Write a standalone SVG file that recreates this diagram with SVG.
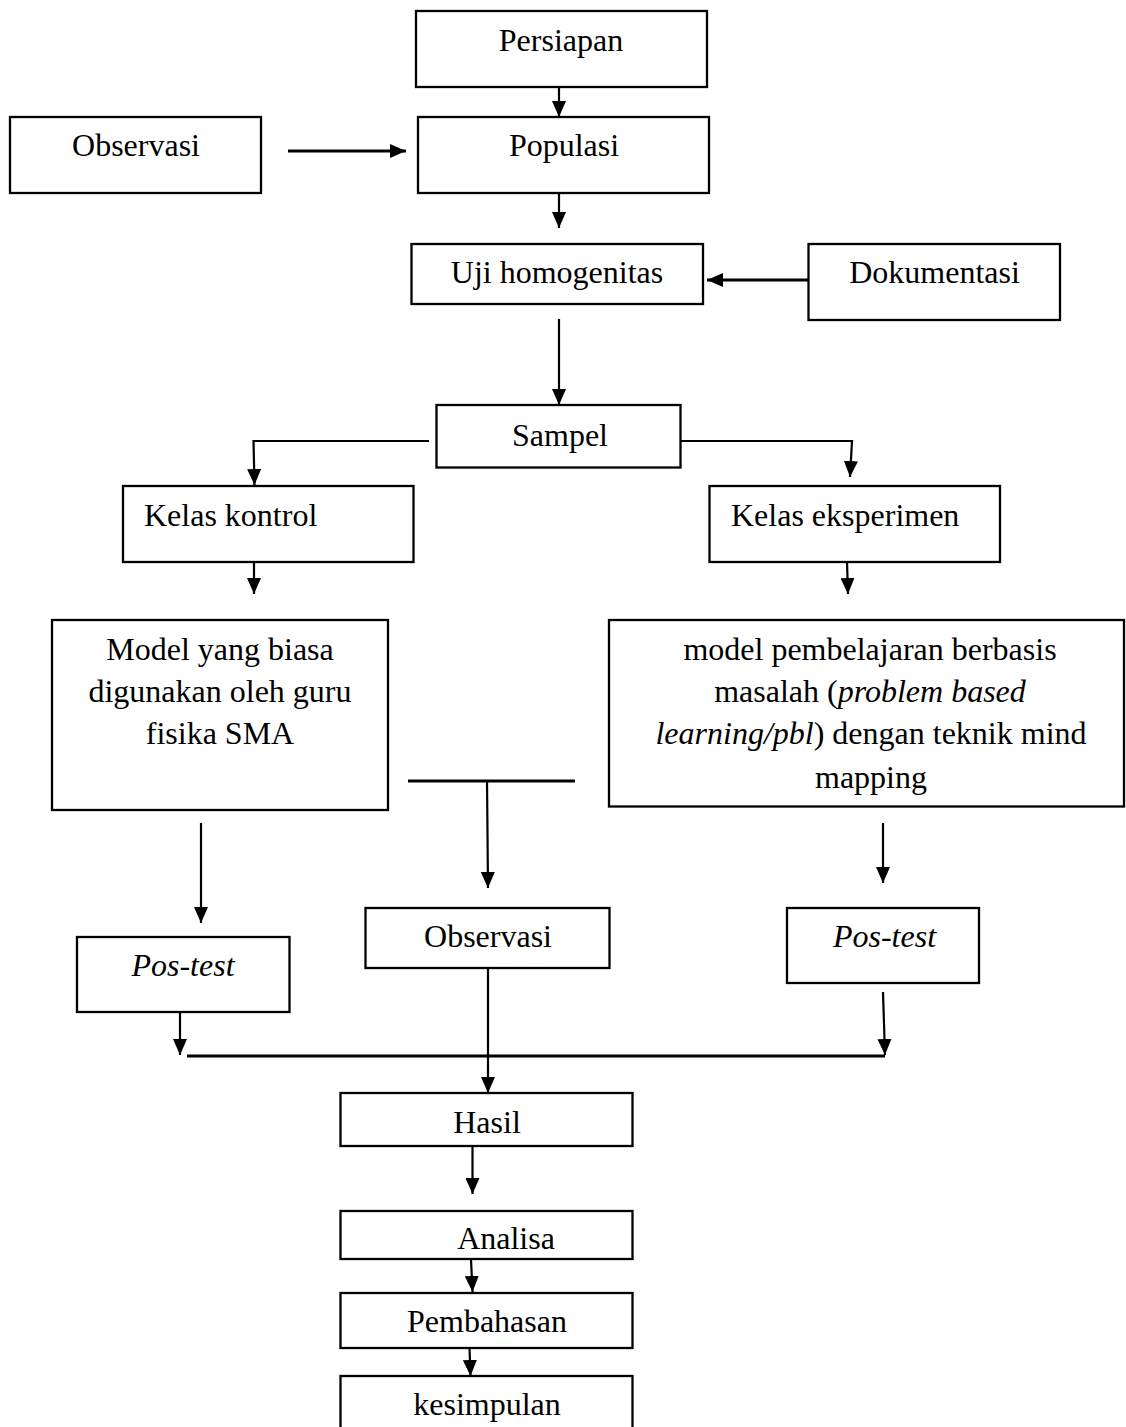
<svg xmlns="http://www.w3.org/2000/svg" width="1126" height="1427" viewBox="0 0 1126 1427">
<style>
.box{fill:#fff;stroke:#000;stroke-width:2.3}
.t{font-family:"Liberation Serif","Times New Roman",serif;font-size:32px;fill:#000;text-anchor:middle}
.ts{text-anchor:start}
.i{font-style:italic}
.c{stroke:#000;stroke-width:2.2;fill:none}
.ck{stroke:#000;stroke-width:2.8;fill:none}
</style>
<defs>
<marker id="ah" markerUnits="userSpaceOnUse" markerWidth="16" markerHeight="14" refX="16" refY="7" orient="auto" viewBox="0 0 16 14">
<path d="M0,0 L16,7 L0,14 Z" fill="#000"/>
</marker>
</defs>
<rect width="1126" height="1427" fill="#fff"/>
<g id="connectors">
<line class="c" x1="559" y1="87" x2="559" y2="117" marker-end="url(#ah)"/>
<line class="ck" x1="288" y1="151" x2="406" y2="151" marker-end="url(#ah)"/>
<line class="c" x1="559" y1="193" x2="559" y2="228" marker-end="url(#ah)"/>
<line class="ck" x1="817" y1="280" x2="707" y2="280" marker-end="url(#ah)"/>
<line class="c" x1="559" y1="319" x2="559" y2="405" marker-end="url(#ah)"/>
<polyline class="c" points="429,441 253.5,441 254.5,485" marker-end="url(#ah)"/>
<polyline class="c" points="679,441 852,441 850,477" marker-end="url(#ah)"/>
<line class="c" x1="254" y1="562" x2="254" y2="594" marker-end="url(#ah)"/>
<line class="c" x1="847" y1="562" x2="848" y2="594" marker-end="url(#ah)"/>
<line class="c" x1="201" y1="823" x2="201" y2="923" marker-end="url(#ah)"/>
<line class="ck" x1="408" y1="781" x2="575" y2="781"/>
<line class="c" x1="487" y1="781" x2="488" y2="888" marker-end="url(#ah)"/>
<line class="c" x1="883" y1="823" x2="883" y2="883" marker-end="url(#ah)"/>
<line class="c" x1="180" y1="1012" x2="180" y2="1055" marker-end="url(#ah)"/>
<line class="c" x1="883" y1="992" x2="885" y2="1055" marker-end="url(#ah)"/>
<line class="ck" x1="187" y1="1056" x2="885" y2="1056"/>
<line class="c" x1="488" y1="968" x2="488" y2="1093" marker-end="url(#ah)"/>
<line class="c" x1="472.5" y1="1146" x2="472.5" y2="1194" marker-end="url(#ah)"/>
<line class="c" x1="471" y1="1259" x2="472.5" y2="1292" marker-end="url(#ah)"/>
<line class="c" x1="469.5" y1="1348" x2="470.5" y2="1376" marker-end="url(#ah)"/>
</g>
<g id="persiapan"><rect class="box" x="416" y="11" width="291" height="76"/><text class="t" x="561" y="51">Persiapan</text></g>
<g id="observasi1"><rect class="box" x="10" y="117" width="251" height="76"/><text class="t" x="136" y="156">Observasi</text></g>
<g id="populasi"><rect class="box" x="418" y="117" width="291" height="76"/><text class="t" x="564" y="156">Populasi</text></g>
<g id="uji"><rect class="box" x="411.5" y="244" width="291.5" height="60"/><text class="t" x="557" y="283">Uji homogenitas</text></g>
<g id="dokumentasi"><rect class="box" x="808.5" y="244" width="251.5" height="76"/><text class="t" x="934.5" y="283">Dokumentasi</text></g>
<g id="sampel"><rect class="box" x="436.5" y="405" width="244" height="62.5"/><text class="t" x="560" y="446">Sampel</text></g>
<g id="kontrol"><rect class="box" x="123" y="486" width="290.5" height="76"/><text class="t ts" x="144" y="526">Kelas kontrol</text></g>
<g id="eksperimen"><rect class="box" x="709.5" y="486" width="290.5" height="76"/><text class="t ts" x="731" y="526">Kelas eksperimen</text></g>
<g id="model-biasa"><rect class="box" x="52" y="620" width="336" height="190"/>
<text class="t" x="220" y="660">Model yang biasa</text>
<text class="t" x="220" y="702">digunakan oleh guru</text>
<text class="t" x="220" y="744">fisika SMA</text></g>
<g id="model-pbl"><rect class="box" x="609" y="620" width="515" height="186.5"/>
<text class="t" x="870" y="660">model pembelajaran berbasis</text>
<text class="t" x="870" y="702">masalah (<tspan class="i">problem based</tspan></text>
<text class="t" x="871" y="744"><tspan class="i">learning/pbl</tspan>) dengan teknik mind</text>
<text class="t" x="871" y="788">mapping</text></g>
<g id="observasi2"><rect class="box" x="365.5" y="908" width="244" height="60"/><text class="t" x="488" y="947">Observasi</text></g>
<g id="postest1"><rect class="box" x="77" y="937" width="212.5" height="75"/><text class="t i" x="183" y="976">Pos-test</text></g>
<g id="postest2"><rect class="box" x="787" y="908" width="192" height="75"/><text class="t i" x="884.5" y="947">Pos-test</text></g>
<g id="hasil"><rect class="box" x="340.5" y="1093" width="292" height="53"/><text class="t" x="487" y="1133">Hasil</text></g>
<g id="analisa"><rect class="box" x="340.5" y="1211" width="292" height="48"/><text class="t" x="506" y="1249">Analisa</text></g>
<g id="pembahasan"><rect class="box" x="340.5" y="1293" width="292" height="55"/><text class="t" x="487" y="1332">Pembahasan</text></g>
<g id="kesimpulan"><rect class="box" x="340.5" y="1376" width="292" height="60"/><text class="t" x="487" y="1415">kesimpulan</text></g>
</svg>
